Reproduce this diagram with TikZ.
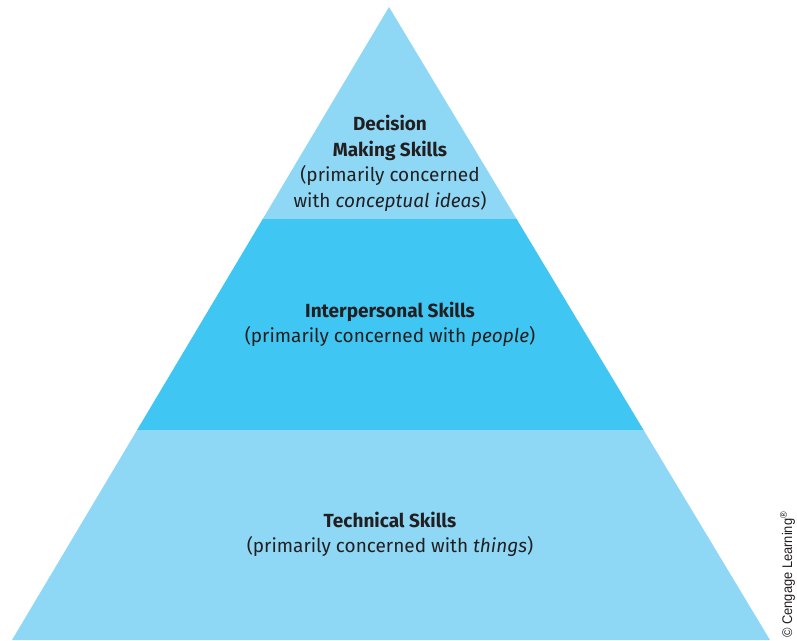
\documentclass[tikz,border=0pt]{standalone}
\usepackage{fontspec}
\setmainfont{Fira Sans}
\newfontfamily\creditfont{Liberation Sans}
\usetikzlibrary{calc}
\definecolor{tierlight}{RGB}{142,216,246}
\definecolor{tiermid}{RGB}{64,198,242}
\definecolor{inktext}{RGB}{35,31,32}
\begin{document}
\begin{tikzpicture}[x=1pt,y=-1pt,
  label/.style={anchor=base,inner sep=0pt,text=inktext,font=\fontsize{19}{22}\selectfont},
  title/.style={label,font=\fontsize{19}{22}\selectfont\bfseries}]
\useasboundingbox (0,0) rectangle (797,640);
% corners of the pyramid
\coordinate (apex) at (389,7);
\coordinate (bl) at (12,640);
\coordinate (br) at (770,640);
% band boundaries along the sloping sides
\coordinate (ul) at ($(apex)!0.3349!(bl)$);
\coordinate (ur) at ($(apex)!0.3349!(br)$);
\coordinate (ml) at ($(apex)!0.6682!(bl)$);
\coordinate (mr) at ($(apex)!0.6682!(br)$);
% tiers
\fill[tierlight] (bl) -- (br) -- (mr) -- (ml) -- cycle;
\fill[tiermid] (ml) -- (mr) -- (ur) -- (ul) -- cycle;
\fill[tierlight] (ul) -- (ur) -- (apex) -- cycle;
% top tier text
\node[title] (dm1) at (390,130) {Decision};
\node[title] (dm2) at (390,156) {Making Skills};
\node[label] (dm3) at (390,181) {(primarily concerned};
\node[label] (dm4) at (390,207) {with \textit{conceptual ideas})};
% middle tier text
\node[title] (ip1) at (390,317) {Interpersonal Skills};
\node[label] (ip2) at (390,342) {(primarily concerned with \textit{people})};
% bottom tier text
\node[title] (tc1) at (390,527) {Technical Skills};
\node[label] (tc2) at (390,552) {(primarily concerned with \textit{things})};
% credit line
\node[anchor=base west,rotate=90,inner sep=0pt,text=inktext,xscale=0.92,
  font=\creditfont\fontsize{14}{16}\selectfont] (credit) at (792,638)
  {\textcopyright{} Cengage Learning\textsuperscript{\textregistered}};
\end{tikzpicture}
\end{document}
